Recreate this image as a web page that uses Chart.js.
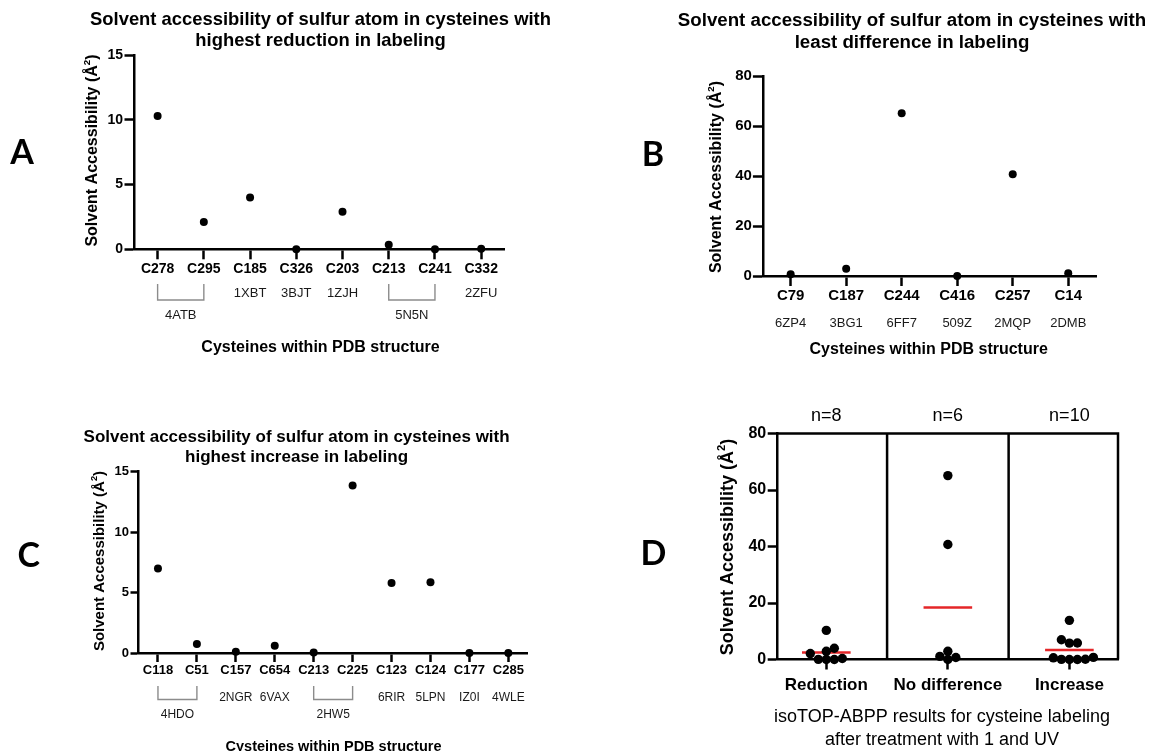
<!DOCTYPE html>
<html>
<head>
<meta charset="utf-8">
<script src="https://cdn.jsdelivr.net/npm/chart.js@4.4.1/dist/chart.umd.min.js"></script>
<style>
  html, body { margin: 0; padding: 0; background: #fff; }
  #wrap { position: relative; width: 1151px; height: 751px; overflow: hidden; }
  #wrap canvas { position: absolute; left: 0; top: 0; }
</style>
</head>
<body>
<div id="wrap">
  <canvas id="chartA" width="1151" height="751"></canvas>
  <canvas id="chartB" width="1151" height="751"></canvas>
  <canvas id="chartC" width="1151" height="751"></canvas>
  <canvas id="chartD" width="1151" height="751"></canvas>
</div>
<script>
// ---- data ----
// A: highest reduction in labeling
const cysA = ['C278', 'C295', 'C185', 'C326', 'C203', 'C213', 'C241', 'C332'];
const accA = [10.3, 2.1, 4.0, 0.0, 2.9, 0.35, 0.0, 0.05];
const pdbA = ['4ATB', '1XBT', '3BJT', '1ZJH', '5N5N', '2ZFU'];
const pdbSpanA = [[0, 1], [2, 2], [3, 3], [4, 4], [5, 6], [7, 7]];

// B: least difference in labeling
const cysB = ['C79', 'C187', 'C244', 'C416', 'C257', 'C14'];
const accB = [0.7, 2.9, 65.1, 0.0, 40.7, 1.1];
const pdbB = ['6ZP4', '3BG1', '6FF7', '509Z', '2MQP', '2DMB'];
const pdbSpanB = [[0, 0], [1, 1], [2, 2], [3, 3], [4, 4], [5, 5]];

// C: highest increase in labeling
const cysC = ['C118', 'C51', 'C157', 'C654', 'C213', 'C225', 'C123', 'C124', 'C177', 'C285'];
const accC = [7.0, 0.75, 0.1, 0.6, 0.05, 13.85, 5.8, 5.85, 0.0, 0.0];
const pdbC = ['4HDO', '2NGR', '6VAX', '2HW5', '6RIR', '5LPN', 'IZ0I', '4WLE'];
const pdbSpanC = [[0, 1], [2, 2], [3, 3], [4, 5], [6, 6], [7, 7], [8, 8], [9, 9]];

// D: all three groups together
const groupNames = ['Reduction', 'No difference', 'Increase'];
const groupVals = [accA, accB, accC];

const titleTop = 'Solvent accessibility of sulfur atom in cysteines with';
const xTitleCys = 'Cysteines within PDB structure';

// ---- styling ----
const FONT = "'Liberation Sans', Arial, Helvetica, sans-serif";
const LETTER_FONT = "Lato, 'Open Sans', sans-serif";
const RED = 'rgb(228, 38, 40)';
const AXW = 50, AXH = 40;
Chart.defaults.font.family = FONT;
Chart.defaults.color = '#000';

function padFor(a) {
  return { left: a.left - AXW, right: 1151 - a.right, top: a.top, bottom: 751 - a.bottom - AXH };
}

function txt(ctx, s, x, y, size, weight, align, color) {
  ctx.font = weight + ' ' + size + 'px ' + FONT;
  ctx.textAlign = align || 'center';
  ctx.textBaseline = 'middle';
  ctx.fillStyle = color || '#000';
  ctx.fillText(s, x, y);
}

function yTitle(ctx, x, y, size) {
  const main = 'Solvent Accessibility (Å', sup = '2', tail = ')';
  const f1 = 'bold ' + size + 'px ' + FONT, f2 = 'bold ' + (size * 0.62) + 'px ' + FONT;
  ctx.save();
  ctx.translate(x, y);
  ctx.rotate(-Math.PI / 2);
  ctx.font = f1;
  const w1 = ctx.measureText(main).width, w3 = ctx.measureText(tail).width;
  ctx.font = f2;
  const w2 = ctx.measureText(sup).width;
  let sx = -(w1 + w2 + w3) / 2;
  ctx.textAlign = 'left'; ctx.textBaseline = 'middle'; ctx.fillStyle = '#000';
  ctx.font = f1; ctx.fillText(main, sx, 0); sx += w1;
  ctx.font = f2; ctx.fillText(sup, sx, -size * 0.36); sx += w2;
  ctx.font = f1; ctx.fillText(tail, sx, 0);
  ctx.restore();
}

function letter(ctx, s, x, y) {
  ctx.font = 'bold 34px ' + LETTER_FONT;
  ctx.textAlign = 'center'; ctx.textBaseline = 'middle'; ctx.fillStyle = '#000';
  ctx.fillText(s, x, y);
}

// texts shared by every panel
function decor(p, extra) {
  return {
    id: 'decor',
    afterDraw(chart) {
      const ctx = chart.ctx;
      ctx.save();
      letter(ctx, p.letter, p.letterX, p.letterY);
      p.title.forEach((t, i) => txt(ctx, t, p.titleX, p.titleY[i], p.titleSize, 'bold'));
      yTitle(ctx, p.yTitleX, p.yTitleY, p.yTitleSize);
      if (extra) extra(chart, ctx);
      ctx.restore();
    }
  };
}

function cysteineChart(id, cats, vals, pdb, spans, p) {
  const pdbLabels = (chart, ctx) => {
    const xs = chart.scales.x;
    spans.forEach((sp, i) => {
      const xa = xs.getPixelForValue(sp[0]), xb = xs.getPixelForValue(sp[1]);
      if (sp[0] === sp[1]) {
        txt(ctx, pdb[i], xa, p.pdbY, p.pdbSize, 'normal', 'center', '#1a1a1a');
      } else {
        ctx.strokeStyle = '#8c8c8c';
        ctx.lineWidth = 1.4;
        ctx.beginPath();
        ctx.moveTo(xa, p.brTop); ctx.lineTo(xa, p.brBot);
        ctx.lineTo(xb, p.brBot); ctx.lineTo(xb, p.brTop);
        ctx.stroke();
        txt(ctx, pdb[i], (xa + xb) / 2, p.brLabelY, p.pdbSize, 'normal', 'center', '#1a1a1a');
      }
    });
    txt(ctx, xTitleCys, p.xTitleX, p.xTitleY, p.xTitleSize, 'bold');
  };
  return new Chart(document.getElementById(id), {
    type: 'line',
    data: {
      labels: cats,
      datasets: [{
        data: vals, showLine: false, pointRadius: 4, pointHoverRadius: 4,
        pointBackgroundColor: '#000', pointBorderWidth: 0, clip: false
      }]
    },
    options: {
      responsive: false, animation: false, events: [],
      layout: { padding: padFor(p.area) },
      plugins: { legend: { display: false }, tooltip: { enabled: false } },
      scales: {
        x: {
          type: 'category', offset: true,
          afterFit: s => { s.height = AXH; },
          grid: { offset: false, drawOnChartArea: false, tickLength: p.xTick, tickWidth: 2.5, tickColor: '#000', color: '#000' },
          border: { display: true, color: '#000', width: 2.5 },
          ticks: { color: '#000', font: { size: p.tickSize, weight: 'bold' }, padding: p.xPad, maxRotation: 0, autoSkip: false }
        },
        y: {
          min: 0, max: p.yMax,
          afterFit: s => { s.width = AXW; },
          ticks: { stepSize: p.yStep, color: '#000', font: { size: p.tickSize, weight: 'bold' }, padding: p.yPad },
          grid: { drawOnChartArea: false, tickLength: p.yTick, tickWidth: 2.5, tickColor: '#000', color: '#000' },
          border: { display: true, color: '#000', width: 2.5 }
        }
      }
    },
    plugins: [decor(p, pdbLabels)]
  });
}

cysteineChart('chartA', cysA, accA, pdbA, pdbSpanA, {
  area: { left: 134.5, right: 504.3, top: 55, bottom: 249.3 },
  yMax: 15, yStep: 5, tickSize: 14, xTick: 10, xPad: 1, yTick: 10, yPad: 1.5,
  letter: 'A', letterX: 22, letterY: 153,
  title: [titleTop, 'highest reduction in labeling'], titleX: 320.5, titleY: [19.5, 40.5], titleSize: 18.4,
  yTitleX: 92.7, yTitleY: 150.5, yTitleSize: 16,
  xTitleX: 320.5, xTitleY: 347.3, xTitleSize: 16,
  pdbY: 293.3, pdbSize: 13, brTop: 284, brBot: 300, brLabelY: 315.5
});

cysteineChart('chartB', cysB, accB, pdbB, pdbSpanB, {
  area: { left: 762.9, right: 1096, top: 76, bottom: 276 },
  yMax: 80, yStep: 20, tickSize: 15, xTick: 10, xPad: 1, yTick: 10, yPad: 1,
  letter: 'B', letterX: 653, letterY: 155,
  title: [titleTop, 'least difference in labeling'], titleX: 912, titleY: [20.5, 43], titleSize: 18.7,
  yTitleX: 716.9, yTitleY: 177, yTitleSize: 16,
  xTitleX: 928.7, xTitleY: 350, xTitleSize: 16,
  pdbY: 323.3, pdbSize: 13, brTop: 0, brBot: 0, brLabelY: 0
});

cysteineChart('chartC', cysC, accC, pdbC, pdbSpanC, {
  area: { left: 138.5, right: 527.8, top: 471.7, bottom: 653 },
  yMax: 15, yStep: 5, tickSize: 13, xTick: 9, xPad: 0.5, yTick: 8, yPad: 1.5,
  letter: 'C', letterX: 28.7, letterY: 556,
  title: [titleTop, 'highest increase in labeling'], titleX: 296.6, titleY: [437, 457.3], titleSize: 17,
  yTitleX: 99.5, yTitleY: 561, yTitleSize: 15,
  xTitleX: 333.5, xTitleY: 747, xTitleSize: 14.5,
  pdbY: 697.7, pdbSize: 12, brTop: 686, brBot: 699.5, brLabelY: 715
});

// ---- D: scatter dot plot with means ----
const mean = a => a.reduce((s, v) => s + v, 0) / a.length;
const pD = {
  letter: 'D', letterX: 653.5, letterY: 554,
  title: [], titleX: 0, titleY: [], titleSize: 18,
  yTitleX: 728, yTitleY: 547, yTitleSize: 18
};
const areaD = { left: 777.7, right: 1118, top: 433.5, bottom: 659.5 };

const frameD = {
  id: 'frameD',
  beforeDatasetsDraw(chart) {
    const { ctx, chartArea: a, scales: { x } } = chart;
    ctx.save();
    ctx.strokeStyle = '#000';
    ctx.lineWidth = 2.5;
    ctx.beginPath();
    ctx.moveTo(a.left, a.top); ctx.lineTo(a.right, a.top); ctx.lineTo(a.right, a.bottom);
    for (let g = 1; g < groupNames.length; g++) {
      const px = x.getPixelForValue(g + 0.5);
      ctx.moveTo(px, a.top); ctx.lineTo(px, a.bottom);
    }
    ctx.stroke();
    ctx.restore();
  }
};

const textD = (chart, ctx) => {
  const xs = chart.scales.x;
  groupVals.forEach((v, g) => txt(ctx, 'n=' + v.length, xs.getPixelForValue(g + 1), 415.7, 18, 'normal'));
  txt(ctx, 'isoTOP-ABPP results for cysteine labeling', 942, 717, 18, 'normal');
  txt(ctx, 'after treatment with 1 and UV', 942, 740.5, 18, 'normal');
};

const chartD = new Chart(document.getElementById('chartD'), {
  type: 'scatter',
  data: {
    datasets: [
      {
        data: groupVals.flatMap((v, g) => v.map(y => ({ x: g + 1, y }))),
        pointRadius: 4.7, pointHoverRadius: 4.7, backgroundColor: '#000', pointBorderWidth: 0, borderWidth: 0, clip: false
      },
      ...groupVals.map((v, g) => ({
        type: 'line',
        data: [{ x: g + 1 - 0.2, y: mean(v) }, { x: g + 1 + 0.2, y: mean(v) }],
        borderColor: RED, borderWidth: 2.5, pointRadius: 0, clip: false
      }))
    ]
  },
  options: {
    responsive: false, animation: false, events: [],
    layout: { padding: padFor(areaD) },
    plugins: { legend: { display: false }, tooltip: { enabled: false } },
    scales: {
      x: {
        type: 'linear', min: 0.6, max: 3.4,
        afterBuildTicks: s => { s.ticks = groupNames.map((n, i) => ({ value: i + 1 })); },
        afterFit: s => { s.height = AXH; },
        grid: { drawOnChartArea: false, tickLength: 10, tickWidth: 2.5, tickColor: '#000', color: '#000' },
        border: { display: true, color: '#000', width: 2.5 },
        ticks: { callback: v => groupNames[v - 1] || '', color: '#000', font: { size: 17, weight: 'bold' }, padding: 6, maxRotation: 0, autoSkip: false }
      },
      y: {
        min: 0, max: 80,
        afterFit: s => { s.width = AXW; },
        ticks: { stepSize: 20, color: '#000', font: { size: 16, weight: 'bold' }, padding: 1.5 },
        grid: { drawOnChartArea: false, tickLength: 10, tickWidth: 2.5, tickColor: '#000', color: '#000' },
        border: { display: true, color: '#000', width: 2.5 }
      }
    }
  },
  plugins: [frameD, decor(pD, textD)]
});

// spread overlapping dots sideways (simple beeswarm in pixel space)
function swarm(vals, center, xs, ys) {
  const dia = 8, step = 4;
  const pxUnit = xs.getPixelForValue(2) - xs.getPixelForValue(1);
  const order = vals.map((v, i) => i).sort((a, b) => vals[a] - vals[b]);
  const placed = [], out = [];
  order.forEach(i => {
    const py = ys.getPixelForValue(vals[i]);
    let off = 0;
    for (let k = 0; k < 60; k++) {
      const m = Math.ceil(k / 2);
      off = (k % 2 === 1 ? m : -m) * step;
      if (placed.every(q => Math.hypot(q.x - off, q.y - py) >= dia)) break;
    }
    placed.push({ x: off, y: py });
    out.push({ x: center + off / pxUnit, y: vals[i] });
  });
  return out;
}
chartD.data.datasets[0].data = groupVals.flatMap((v, g) => swarm(v, g + 1, chartD.scales.x, chartD.scales.y));
chartD.update('none');
</script>
</body>
</html>
